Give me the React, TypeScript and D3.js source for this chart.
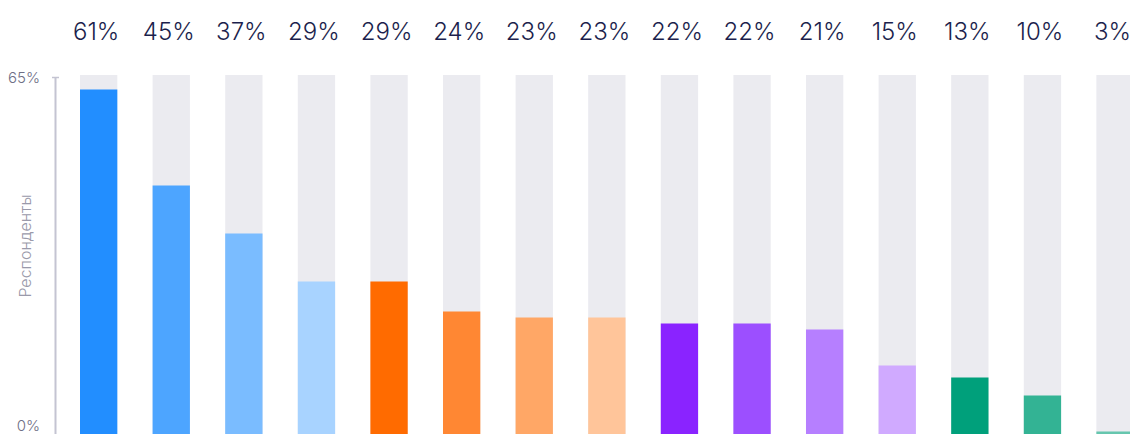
import React from "react";
import * as d3 from "d3";

const categories = ["c1","c2","c3","c4","c5","c6","c7","c8","c9","c10","c11","c12","c13","c14","c15"];
const values = [61, 45, 37, 29, 29, 24, 23, 23, 22, 22, 21, 15, 13, 10, 3];
const colors = ["#228eff","#4da5ff","#7abcff","#a8d3ff","#ff6b00","#ff8733","#ffa766","#ffc59a","#8a23ff","#9c4fff","#b67fff","#d0aaff","#00a07b","#33b394","#66c6ae"];
const yTicks = [0, 65];
const axisTitle = "Респонденты";

export default function App() {
  const W = 1130, H = 470;
  const x = d3.scaleBand<string>().domain(categories).range([80, 1133.7]).paddingInner(0.486).paddingOuter(0);
  const y = d3.scaleLinear().domain([0, 65]).range([455.5, 65.5]);
  const bgTop = 75;
  const minBar = 24;
  return (
    <svg width={W} height={H} style={{ position: "absolute", left: 0, top: 0 }} fontFamily="Inter, 'Noto Sans', sans-serif">
      {categories.map((c, i) => {
        const top = Math.min(y(values[i]), y(0) - minBar);
        return (
          <g key={c}>
            <rect x={x(c)} y={bgTop} width={x.bandwidth()} height={y(0) - bgTop} fill="#ebebf0" />
            <rect x={x(c)} y={top} width={x.bandwidth()} height={y(0) - top} fill={colors[i]} />
            <text x={(x(c) as number) + x.bandwidth() / 2 - 2.5} y={40} textAnchor="middle" fontSize={24} fontWeight={300} fill="#1c1f4d">{values[i]}%</text>
          </g>
        );
      })}
      <line x1={55.5} x2={55.5} y1={77} y2={H} stroke="#c4c4d2" strokeWidth={2} />
      <line x1={52} x2={59} y1={77.5} y2={77.5} stroke="#c4c4d2" strokeWidth={1.5} />
      <text x={40} y={83} textAnchor="end" fontSize={15} fontWeight={300} fill="#6e6e85">{yTicks[1]}%</text>
      <text x={40} y={431} textAnchor="end" fontSize={15} fontWeight={300} fill="#6e6e85">{yTicks[0]}%</text>
      <text transform="translate(31,246) rotate(-90)" textAnchor="middle" fontSize={16} fontWeight={300} fill="#9a9aaa">{axisTitle}</text>
    </svg>
  );
}
